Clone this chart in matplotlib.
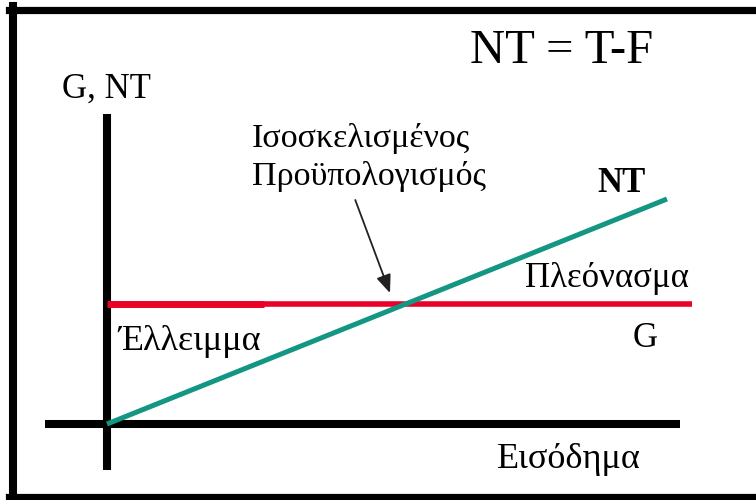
import matplotlib
matplotlib.use("Agg")
import matplotlib.pyplot as plt
from matplotlib.lines import Line2D

plt.rcParams["font.family"] = ["Liberation Serif", "DejaVu Serif"]

# Δεδομένα (αυθαίρετες μονάδες)
income = [0, 100]          # Εισόδημα
nt_values = [0, 45]        # NT = T - F, αυξάνεται με το εισόδημα
g_level = 24               # G σταθερό
g_income = [0, 28, 104.5]  # έκταση της γραμμής G (παχύ κομμάτι ως το 28)

W, H = 756, 500
fig = plt.figure(figsize=(W / 100, H / 100), dpi=100)
ax = fig.add_axes([0, 0, 1, 1])
ax.set_axis_off()

# κλίμακα: 5.6 px ανά μονάδα εισοδήματος, 5 px ανά μονάδα G/NT, αρχή στο (107, 424)
sx, sy = 5.6, 5.0
ox, oy = 107, 424
ax.set_xlim(-ox / sx, (W - ox) / sx)
ax.set_ylim(-(H - oy) / sy, oy / sy)


def px(x, y):
    return x / W, 1 - y / H


# πλαίσιο
fig.add_artist(Line2D([13 / W, 13 / W], [0, 1 - 6 / H], transform=fig.transFigure, color="black", lw=5.8))
fig.add_artist(Line2D([9 / W, 1], [1 - 9.5 / H, 1 - 9.5 / H], transform=fig.transFigure, color="black", lw=5.2))
fig.add_artist(Line2D([9 / W, 1], [3.5 / H, 3.5 / H], transform=fig.transFigure, color="black", lw=5.2))

# άξονες
ax.plot([0, 0], [-(470 - oy) / sy, (oy - 114) / sy], color="black", lw=5.8, solid_capstyle="butt")
ax.plot([(45 - ox) / sx, (680 - ox) / sx], [0, 0], color="black", lw=5.8, solid_capstyle="butt")

# G
ax.plot(g_income[:2], [g_level] * 2, color="#eb0028", lw=5.0, solid_capstyle="butt", zorder=3)
ax.plot(g_income[1:], [g_level] * 2, color="#eb0028", lw=4.0, solid_capstyle="butt", zorder=3)

# NT
ax.plot(income, nt_values, color="#139683", lw=3.6, solid_capstyle="butt", zorder=4)

# βέλος προς το σημείο ισοσκελισμένου προϋπολογισμού
slope = (nt_values[1] - nt_values[0]) / (income[1] - income[0])
be = g_level / slope
ax.annotate("", xy=(be - 2.8, g_level + 2.2), xytext=(be - 9.0, g_level + 20.8),
            arrowprops=dict(arrowstyle="-|>,head_length=1.1,head_width=0.45",
                            color="#222222", lw=1.3, shrinkA=0, shrinkB=0))

fs = 25
fig.text(*px(470, 63), "NT = T-F", fontsize=35, va="baseline", ha="left")
fig.text(*px(62, 98), "G, NT", fontsize=fs, va="baseline", ha="left")
fig.text(*px(252, 147), "Ισοσκελισμένος", fontsize=24.5, va="baseline", ha="left")
fig.text(*px(252, 185), "Προϋπολογισμός", fontsize=24.5, va="baseline", ha="left")
fig.text(*px(597, 192), "NT", fontsize=fs, va="baseline", ha="left", fontweight="bold")
fig.text(*px(525, 287), "Πλεόνασμα", fontsize=fs, va="baseline", ha="left")
fig.text(*px(118, 350), "Έλλειμμα", fontsize=26, va="baseline", ha="left")
fig.text(*px(633, 347), "G", fontsize=fs, va="baseline", ha="left")
fig.text(*px(497, 468), "Εισόδημα", fontsize=26, va="baseline", ha="left")

fig.savefig("out.png", dpi=100)
